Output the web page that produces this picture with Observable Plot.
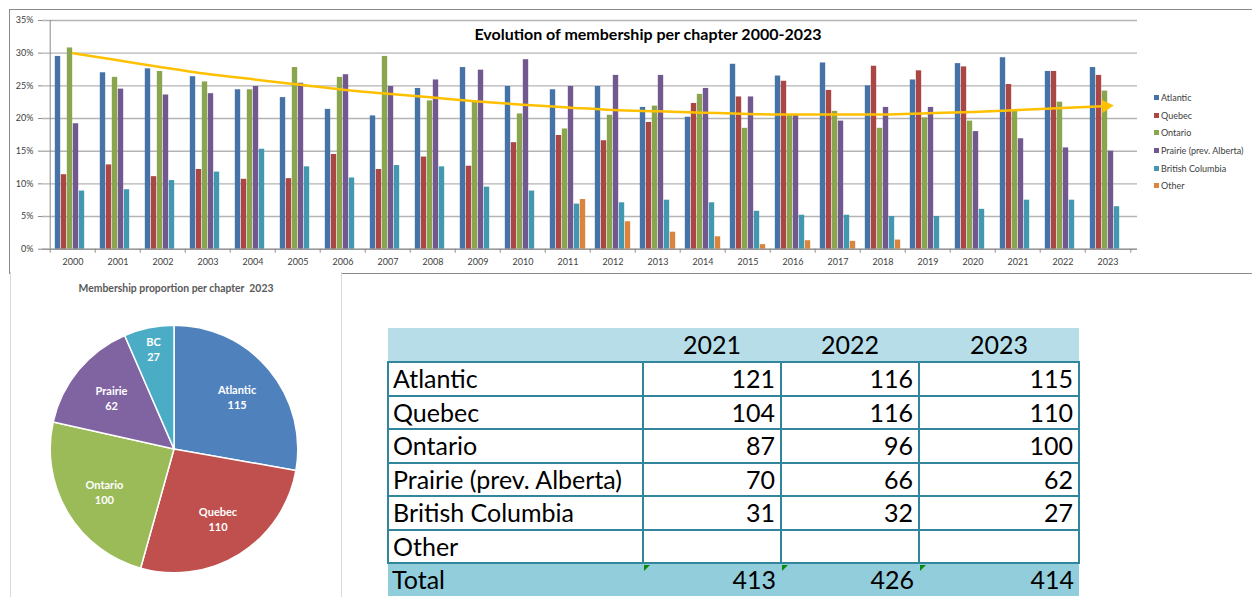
<!DOCTYPE html>
<html><head><meta charset="utf-8">
<script src="https://cdn.jsdelivr.net/npm/d3@7"></script>
<script src="https://cdn.jsdelivr.net/npm/@observablehq/plot@0.6"></script>
<style>
body{margin:0;background:#fff;font-family:Lato,"Liberation Sans",sans-serif;}
#page{position:relative;width:1252px;height:597px;overflow:hidden;background:#fff;}
#topbox{position:absolute;left:9px;top:9px;width:1260px;height:263px;border-top:1px solid #8a8a8a;border-left:1px solid #8a8a8a;border-bottom:1px solid #8a8a8a;}
#bars{position:absolute;left:10px;top:10px;}
#title{position:absolute;left:348px;width:600px;top:24px;text-align:center;font-weight:bold;font-size:16px;color:#000;}
#legend{position:absolute;left:1154px;top:88.5px;font-size:9px;color:#404040;}
#legend div{height:17.7px;display:flex;align-items:center;white-space:nowrap;}
#legend span.sw{display:inline-block;width:5px;height:5px;margin-right:2px;}
#piebox{position:absolute;left:10px;top:272px;width:330px;height:340px;background:#fff;border-left:1px solid #d9d9d9;border-right:1px solid #d9d9d9;}
#pietitle{position:absolute;left:0;width:330px;top:10px;text-align:center;font-weight:bold;font-size:10.4px;color:#595959;}
#pie{position:absolute;left:44px;top:319px;}
#tbl{position:absolute;left:387px;top:328px;border-collapse:collapse;font-size:25px;color:#000;table-layout:fixed;}
#tbl th{background:#B7DEE8;font-weight:normal;height:33px;padding:0;text-align:center;line-height:33px;}
#tbl td{border:2.5px solid #31859C;height:31.5px;padding:0 5px 0 4px;line-height:31.5px;position:relative;}
#tbl td.num{text-align:right;}
#tbl tr.total td{background:#92CDDC;border-left:none;border-right:none;border-bottom:none;}
#tbl td.tri::before{content:"";position:absolute;left:1px;top:1px;border-top:6px solid #0a8a0a;border-right:6px solid transparent;}
</style></head>
<body><div id="page">
<div id="topbox"></div>
<div id="bars"></div>
<div id="title">Evolution of membership per chapter 2000-2023</div>
<div id="legend"></div>
<div id="piebox"><div id="pietitle">Membership proportion per chapter&nbsp; 2023</div></div>
<div id="pie"></div>
<table id="tbl"></table>
</div>
<script>
// ---------- data: bar chart (% of members per chapter) ----------
const years = ["2000","2001","2002","2003","2004","2005","2006","2007","2008","2009","2010","2011","2012","2013","2014","2015","2016","2017","2018","2019","2020","2021","2022","2023"];
const seriesNames = ["Atlantic","Quebec","Ontario","Prairie (prev. Alberta)","British Columbia","Other"];
const atlantic = [29.5,27.0,27.6,26.4,24.4,23.2,21.4,20.4,24.6,27.8,24.9,24.4,24.9,21.7,20.2,28.3,26.5,28.5,25.0,25.9,28.4,29.3,27.2,27.8];
const quebec   = [11.4,12.9,11.1,12.2,10.7,10.8,14.5,12.2,14.1,12.7,16.3,17.4,16.6,19.4,22.3,23.3,25.7,24.3,28.0,27.3,27.9,25.2,27.2,26.6];
const ontario  = [30.8,26.3,27.2,25.6,24.4,27.8,26.3,29.5,22.7,22.5,20.7,18.4,20.5,21.9,23.7,18.5,20.5,21.1,18.5,20.1,19.6,21.1,22.5,24.2];
const prairie  = [19.2,24.5,23.6,23.8,24.9,25.4,26.7,24.9,25.9,27.4,29.0,24.9,26.6,26.6,24.6,23.3,20.5,19.6,21.7,21.7,18.0,16.9,15.5,15.0];
const bcolumbia= [8.9,9.1,10.5,11.8,15.3,12.6,10.9,12.8,12.6,9.5,8.9,6.9,7.1,7.5,7.1,5.8,5.2,5.2,5.0,5.0,6.1,7.5,7.5,6.5];
const other    = [null,null,null,null,null,null,null,null,null,null,null,7.6,4.2,2.6,1.9,0.7,1.3,1.2,1.4,null,null,null,null,null];
const trendValues = [30.0,28.9,27.8,26.8,26.0,25.2,24.4,23.8,23.2,22.6,22.1,21.7,21.3,21.1,20.9,20.7,20.6,20.6,20.6,20.8,21.0,21.3,21.6,21.9];
const yTicks = [0,5,10,15,20,25,30,35];
const barColors = ["#4572A7","#AA4643","#89A54E","#71588F","#4198AF","#DB843D"];

// ---------- data: pie 2023 ----------
const pieNames = ["Atlantic","Quebec","Ontario","Prairie","BC"];
const pieValues = [115,110,100,62,27];
const pieColors = ["#4F81BD","#C0504D","#9BBB59","#8064A2","#4BACC6"];

// ---------- data: table ----------
const tableRows = ["Atlantic","Quebec","Ontario","Prairie (prev. Alberta)","British Columbia","Other"];
const tableYears = ["2021","2022","2023"];
const counts2021 = [121,104,87,70,31,null];
const counts2022 = [116,116,96,66,32,null];
const counts2023 = [115,110,100,62,27,null];
const totals = [413,426,414];

// ---------- bar chart ----------
const seriesValues = [atlantic, quebec, ontario, prairie, bcolumbia, other];
const W = 1140, H = 262, mL = 32, mR = 13, mT = 10, mB = 23.3;
const bw = (W - mL - mR) / years.length;
const slot = 6.0;
const pad = (bw - slot * seriesNames.length) / 2;
const barData = seriesNames.flatMap((s, i) => years.map((y, j) => ({year: y, series: s, value: seriesValues[i][j]}))).filter(d => d.value != null);
const trend = years.map((y, j) => ({year: y, value: trendValues[j]}));

const barMarks = seriesNames.map((s, i) => Plot.barY(barData.filter(d => d.series === s), {
  x: "year", y: "value", fill: barColors[i],
  insetLeft: pad + slot * i, insetRight: bw - pad - slot * (i + 1)
}));

const barPlot = Plot.plot({
  width: W, height: H,
  marginLeft: mL, marginRight: mR, marginTop: mT, marginBottom: mB,
  style: {fontFamily: "Lato, sans-serif", fontSize: "9px", color: "#404040", background: "transparent", overflow: "visible"},
  x: {type: "band", domain: years, padding: 0, label: null},
  y: {domain: [0, 35], label: null},
  marks: [
    Plot.gridY(yTicks, {stroke: "#b4b4b4", strokeOpacity: 1, strokeWidth: 1.4}),
    ...barMarks,
    Plot.ruleY([0], {stroke: "#8a8a8a"}),
    Plot.ruleX([years[0]], {dx: -bw / 2, stroke: "#8a8a8a"}),
    Plot.axisY(yTicks, {tickFormat: d => d + "%", tickSize: 4, tickPadding: 5, stroke: "#8a8a8a"}),
    Plot.axisX(years, {tickSize: 0, tickPadding: 9}),
    Plot.axisX(years, {tickSize: 4, tickFormat: () => "", dx: -bw / 2, stroke: "#8a8a8a"}),
    Plot.axisX([years[years.length - 1]], {tickSize: 4, tickFormat: () => "", dx: bw / 2, stroke: "#8a8a8a"}),
    Plot.line(trend, {x: "year", y: "value", stroke: "#FFC000", strokeWidth: 2.5, curve: "monotone-x"}),
    Plot.dot(trend.slice(-1), {x: "year", y: "value", symbol: "triangle", r: 5, fill: "#FFC000", rotate: 86, dx: -2})
  ]
});
document.getElementById("bars").append(barPlot);

// legend
const legend = document.getElementById("legend");
seriesNames.forEach((s, i) => {
  const row = document.createElement("div");
  row.innerHTML = `<span class="sw" style="background:${barColors[i]}"></span>${s}`;
  legend.append(row);
});

// ---------- pie ----------
const pieData = pieNames.map((n, i) => ({name: n, value: pieValues[i]}));
const pieColor = Plot.scale({color: {domain: pieNames, range: pieColors}});
const arcs = d3.pie().sort(null).value(d => d.value)(pieData);
const pieLabels = arcs.map(a => {
  const m = (a.startAngle + a.endAngle) / 2;
  const rho = (a.endAngle - a.startAngle) < 0.5 ? 0.83 : 0.66;
  return {name: a.data.name, value: a.data.value, lx: rho * Math.sin(m), ly: rho * Math.cos(m)};
});
function slices(index, scales, values, dimensions) {
  const cx = scales && scales.x ? scales.x(0) : dimensions.width / 2;
  const cy = scales && scales.y ? scales.y(0) : dimensions.height / 2;
  const r = scales && scales.x ? scales.x(1) - scales.x(0) : dimensions.width / 2.1;
  const g = d3.create("svg:g").attr("transform", `translate(${cx},${cy})`);
  g.selectAll("path").data(arcs).join("path")
    .attr("d", d3.arc().innerRadius(0).outerRadius(r))
    .attr("fill", d => pieColor.apply(d.data.name))
    .attr("stroke", "#fff").attr("stroke-width", 1.5);
  return g.node();
}
const piePlot = Plot.plot({
  width: 260, height: 260, margin: 0,
  style: {background: "transparent", overflow: "visible", fontFamily: "Lato, sans-serif"},
  x: {domain: [-1.05, 1.05], axis: null},
  y: {domain: [-1.05, 1.05], axis: null},
  marks: [
    slices,
    Plot.text(pieLabels, {x: "lx", y: "ly", text: d => `${d.name}\n${d.value}`, fill: "#fff", fontWeight: "bold", fontSize: 11, lineHeight: 1.36})
  ]
});
document.getElementById("pie").append(piePlot);

// ---------- table ----------
const colW = [255, 138, 138, 160];
const tbl = document.getElementById("tbl");
let html = "<colgroup>" + colW.map(w => `<col style="width:${w}px">`).join("") + "</colgroup>";
html += "<tr><th></th>" + tableYears.map(y => `<th>${y}</th>`).join("") + "</tr>";
const cols = [counts2021, counts2022, counts2023];
tableRows.forEach((r, i) => {
  html += `<tr><td>${r}</td>` + cols.map(c => `<td class="num">${c[i] == null ? "" : c[i]}</td>`).join("") + "</tr>";
});
html += `<tr class="total"><td>Total</td>` + totals.map(t => `<td class="num tri">${t}</td>`).join("") + "</tr>";
tbl.innerHTML = html;
</script>
</body></html>
